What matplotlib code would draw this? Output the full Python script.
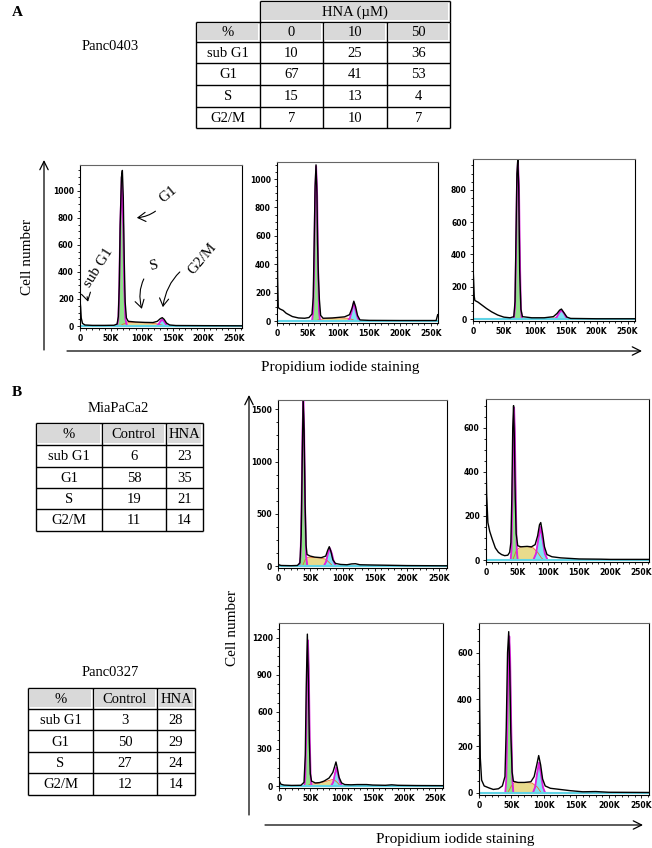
import matplotlib.pyplot as plt
from matplotlib.patches import Rectangle
from matplotlib.ticker import MultipleLocator, FixedLocator

W, H = 652, 848
plt.rcParams['font.family'] = ['Liberation Serif', 'DejaVu Serif']

# tables
a_doses = ['0', '10', '50']
phases = ['sub G1', 'G1', 'S', 'G2/M']
a_values = [[10, 25, 36], [67, 41, 53], [15, 13, 4], [7, 10, 7]]
b_groups = ['Control', 'HNA']
mia_values = [[6, 23], [58, 35], [19, 21], [11, 14]]
p327_values = [[3, 28], [50, 29], [27, 24], [12, 14]]

x_ticks = [0, 50, 100, 150, 200, 250]
x_tick_labels = ['0', '50K', '100K', '150K', '200K', '250K']

# histograms, x in K units: (x, count)
a1_cells = [(0, 190), (1, 140), (2, 60), (4, 20), (8, 8), (20, 5), (40, 5), (55, 6), (60, 15), (62, 70),
            (63.5, 300), (65, 750), (67, 1100), (68.5, 1150), (70, 950), (71.5, 500), (73, 180), (75, 60),
            (78, 35), (90, 30), (105, 27), (118, 26), (125, 35), (130, 55), (133, 62), (136, 50), (140, 22),
            (145, 8), (155, 4), (200, 3), (262, 2)]
a1_g1 = [(60, 0), (62, 50), (63.5, 280), (65, 720), (67.5, 1100), (70, 720), (71.5, 280), (73.5, 50), (76, 0)]
a1_s = [(64, 0), (70, 15), (78, 25), (95, 25), (115, 22), (125, 16), (132, 8), (138, 0)]
a1_g2 = [(123, 0), (126.5, 10), (130, 34), (133, 48), (136, 34), (139.5, 10), (143, 0)]

a2_cells = [(0, 0), (0.3, 650), (1, 300), (2, 95), (5, 85), (10, 75), (15, 55), (25, 32), (35, 22), (45, 20),
            (52, 25), (57, 50), (59, 170), (60.5, 550), (62, 950), (63.5, 1100), (65, 900), (66, 550),
            (67.5, 300), (69, 150), (71, 40), (75, 20), (90, 22), (110, 30), (118, 45), (122, 90),
            (125, 140), (128, 100), (131, 40), (135, 8), (150, 5), (200, 4), (259, 4), (261.5, 45)]
a2_g1 = [(57, 0), (59, 70), (60.5, 380), (62, 880), (63.7, 1090), (65.4, 880), (66.9, 380), (68.4, 70), (70, 0)]
a2_s = [(62, 0), (68, 10), (80, 18), (100, 22), (115, 20), (122, 12), (128, 0)]
a2_g2 = [(115, 0), (118.5, 20), (122, 72), (125, 130), (128, 72), (131.5, 20), (135, 0)]

a3_cells = [(0, 0), (0.3, 300), (1, 240), (2, 140), (3, 115), (8, 105), (15, 85), (22, 65), (30, 45), (40, 25),
            (50, 12), (60, 8), (66, 15), (68, 110), (69.5, 500), (71, 900), (72.5, 990), (74, 800),
            (75.5, 300), (77.5, 60), (80, 15), (95, 8), (115, 8), (130, 15), (136, 35), (140, 55), (143, 62),
            (147, 40), (152, 12), (158, 4), (200, 2), (262, 2)]
a3_g1 = [(66, 0), (68, 70), (69.5, 380), (71, 820), (72.7, 980), (74.4, 820), (75.9, 380), (77.4, 70), (79, 0)]
a3_s = [(70, 0), (80, 3), (100, 6), (120, 8), (135, 6), (145, 0)]
a3_g2 = [(132, 0), (135.5, 12), (139, 36), (143, 55), (147, 36), (150.5, 12), (154, 0)]

b1_cells = [(0, 20), (2, 10), (5, 5), (20, 3), (30, 5), (34, 30), (36, 300), (37.5, 1000), (39, 1600),
            (40.5, 1300), (42, 600), (43.5, 200), (45, 110), (50, 95), (57, 85), (67, 80), (74, 95), (77, 150),
            (79.5, 185), (82, 140), (85, 60), (89, 25), (97, 15), (107, 12), (114, 20), (120, 22), (127, 12),
            (142, 10), (162, 8), (200, 4), (262, 2)]
b1_g1 = [(33, 0), (35, 90), (36.5, 550), (38, 1300), (39.3, 1580), (40.6, 1300), (42.1, 550), (43.6, 90), (45.5, 0)]
b1_s = [(38, 0), (42, 60), (47, 85), (57, 80), (67, 75), (74, 65), (80, 30), (85, 0)]
b1_g2 = [(71, 0), (74.5, 40), (77.5, 120), (80.5, 170), (83.5, 120), (86.5, 40), (90, 0)]

b2_cells = [(0, 0), (0.3, 420), (1, 300), (3, 170), (6, 130), (10, 95), (15, 55), (20, 35), (25, 25), (30, 20),
            (35, 22), (38, 35), (40, 80), (41.5, 280), (43, 600), (44.3, 700), (45.6, 550), (47, 280),
            (48.5, 120), (51, 65), (56, 60), (66, 62), (73, 60), (79, 70), (83, 110), (86, 160), (88, 170),
            (91, 120), (94, 60), (98, 25), (106, 15), (120, 10), (150, 5), (185, 4), (200, 3), (262, 3)]
b2_g1 = [(39.5, 0), (41, 45), (42.5, 280), (44, 580), (45.2, 690), (46.4, 580), (47.9, 280), (49.4, 45), (51, 0)]
b2_s = [(43, 0), (49, 45), (56, 60), (66, 62), (76, 55), (83, 35), (89, 10), (93, 0)]
b2_g2 = [(76, 0), (80.5, 30), (84, 92), (87.5, 150), (91, 92), (94.5, 30), (99, 0)]

b3_cells = [(0, 40), (1, 35), (3, 15), (8, 8), (20, 5), (35, 6), (40, 30), (42, 250), (43.5, 800),
            (45.3, 1230), (47, 850), (48.5, 350), (50, 100), (52, 40), (58, 25), (65, 28), (72, 40), (80, 65),
            (86, 110), (89, 160), (91, 195), (93, 150), (96, 70), (100, 25), (105, 12), (115, 10), (125, 12),
            (140, 12), (150, 8), (170, 6), (180, 10), (190, 6), (220, 4), (262, 3)]
b3_g1 = [(40.5, 0), (42, 70), (43.5, 400), (45, 950), (46.3, 1180), (47.6, 950), (49.1, 400), (50.6, 70), (52, 0)]
b3_s = [(44, 0), (50, 15), (60, 20), (70, 30), (80, 45), (87, 55), (93, 30), (98, 0)]
b3_g2 = [(83, 0), (86.5, 30), (89.5, 100), (91.5, 150), (94, 100), (97.5, 30), (101, 0)]

b4_cells = [(0, 0), (0.3, 650), (1, 380), (2, 150), (4, 55), (8, 30), (15, 22), (22, 15), (30, 18), (36, 30),
            (40, 70), (42, 280), (44, 600), (45.8, 690), (47.5, 520), (49, 260), (51, 90), (53, 50), (60, 45),
            (70, 45), (80, 48), (85, 70), (89, 120), (92, 160), (95, 120), (98, 60), (102, 30), (110, 20),
            (125, 15), (140, 10), (160, 5), (180, 6), (200, 3), (262, 2)]
b4_g1 = [(40.5, 0), (42, 55), (43.8, 300), (45.4, 580), (46.7, 670), (48, 580), (49.6, 300), (51.4, 55), (53, 0)]
b4_s = [(44, 0), (50, 30), (55, 45), (70, 45), (82, 42), (90, 25), (96, 0)]
b4_g2 = [(83, 0), (86.5, 25), (89.5, 82), (92.5, 130), (95.5, 82), (98.5, 25), (102, 0)]

fig = plt.figure(figsize=(W / 100, H / 100), dpi=100)
bg = fig.add_axes([0, 0, 1, 1])
bg.set_xlim(0, W)
bg.set_ylim(H, 0)
bg.axis('off')


def rect(x0, y0, x1, y1):
    return [x0 / W, 1 - y1 / H, (x1 - x0) / W, (y1 - y0) / H]


def gray_cell(x0, y0, x1, y1):
    bg.add_patch(Rectangle((x0 + 2, y0 + 2), x1 - x0 - 4, y1 - y0 - 4, facecolor='#d9d9d9', edgecolor='none'))


def line(xs, ys, lw=1.0):
    bg.plot(xs, ys, color='black', lw=lw, solid_capstyle='butt')


def draw_table(xs, ys, header, values):
    for i, txt in enumerate(header):
        gray_cell(xs[i], ys[0], xs[i + 1], ys[1])
        bg.text((xs[i] + xs[i + 1]) / 2, (ys[0] + ys[1]) / 2 + 1, txt, ha='center', va='center', fontsize=10.5)
    for r, (lab, vals) in enumerate(zip(phases, values)):
        yc = (ys[r + 1] + ys[r + 2]) / 2 + 1
        for i, txt in enumerate([lab] + [str(v) for v in vals]):
            bg.text((xs[i] + xs[i + 1]) / 2, yc, txt, ha='center', va='center', fontsize=10.5)
    for x in xs:
        line([x, x], [ys[0], ys[-1]])
    for y in ys:
        line([xs[0], xs[-1]], [y, y])


def hist(pos, cells, g1, s, g2, ymax, ystep):
    ax = fig.add_axes(rect(*pos))
    for pts, fc, ec in ((s, '#e8db8c', '#e86a2a'), (g1, '#8fe38a', '#3a9e3a'), (g2, '#7fe3f2', '#2a9fd6')):
        xs, ys = zip(*pts)
        ax.fill_between(xs, ys, color=fc, lw=0)
        ax.plot(xs, ys, color=ec, lw=0.6)
    for pts in (g1, g2):
        xs, ys = zip(*pts)
        ax.plot(xs, ys, color='#e020e0', lw=1.3)
    ax.axhline(0, color='#5fd3e6', lw=1.5)
    xs, ys = zip(*cells)
    ax.plot(xs, ys, color='black', lw=1.0)
    ax.set_xlim(0, 262)
    ax.set_ylim(-ymax * 0.012, ymax)
    ax.xaxis.set_major_locator(FixedLocator(x_ticks))
    ax.set_xticklabels(x_tick_labels)
    ax.xaxis.set_minor_locator(MultipleLocator(10))
    ax.yaxis.set_major_locator(MultipleLocator(ystep))
    ax.yaxis.set_minor_locator(MultipleLocator(ystep / 4))
    ax.tick_params(which='both', direction='out', labelsize=5.5, pad=2, width=0.6)
    ax.tick_params(which='major', length=2.5)
    ax.tick_params(which='minor', length=1.5)
    for lab in ax.get_xticklabels() + ax.get_yticklabels():
        lab.set_family('DejaVu Sans')
        lab.set_fontweight('bold')
    for sp in ax.spines.values():
        sp.set_linewidth(0.8)
    ax.spines['top'].set_color('#666666')
    return ax


def arrow(p0, p1):
    bg.annotate('', xy=p1, xytext=p0,
                arrowprops=dict(arrowstyle='->,head_length=0.6,head_width=0.3', lw=0.9, color='black',
                                shrinkA=0, shrinkB=0))


# ---- panel A ----
bg.text(12, 12, 'A', fontsize=11, fontweight='bold', ha='left', va='center')
bg.text(110, 47, 'Panc0403', fontsize=10.5, ha='center', va='center')

xa = [196, 260, 323, 387, 450]
ya = [1, 22, 42, 63, 85, 107, 128]
gray_cell(xa[1], ya[0], xa[4], ya[1])
bg.text((xa[1] + xa[4]) / 2, (ya[0] + ya[1]) / 2 + 1, 'HNA (µM)', ha='center', va='center', fontsize=10.5)
line([xa[1], xa[1]], [ya[0], ya[1]])
line([xa[4], xa[4]], [ya[0], ya[1]])
line([xa[1], xa[4]], [ya[0], ya[0]])
draw_table(xa, ya[1:], ['%'] + a_doses, a_values)

ax1 = hist((80, 165, 242, 328), a1_cells, a1_g1, a1_s, a1_g2, 1190, 200)
hist((277, 162, 438, 323), a2_cells, a2_g1, a2_s, a2_g2, 1120, 200)
hist((473, 159, 635, 321), a3_cells, a3_g1, a3_s, a3_g2, 990, 200)

labels_a1 = [('G1', (142, 970), (92, 800), 40, -0.3),
             ('sub G1', (30, 430), (13, 180), 58, 0.3),
             ('S', (120, 450), (100, 127), 15, 0.3),
             ('G2/M', (198, 500), (134, 140), 50, 0.3)]
for txt, tp, tip, rot, rad in labels_a1:
    ax1.annotate(txt, xy=tip, xytext=tp, rotation=rot, ha='center', va='center', fontsize=11,
                 arrowprops=dict(arrowstyle='->,head_length=0.5,head_width=0.3', lw=0.8, color='black',
                                 connectionstyle='arc3,rad=%s' % rad, shrinkA=3, shrinkB=0))

arrow((44, 350), (44, 160))
arrow((67, 351), (642, 351))
bg.text(28, 257, 'Cell number', rotation=90, fontsize=11, ha='center', va='center')
bg.text(340, 368, 'Propidium iodide staining', fontsize=11, ha='center', va='center')

# ---- panel B ----
bg.text(12, 392, 'B', fontsize=11, fontweight='bold', ha='left', va='center')
bg.text(118, 409, 'MiaPaCa2', fontsize=10.5, ha='center', va='center')
draw_table([36, 102, 166, 203], [423, 445, 467, 488, 509, 531], ['%'] + b_groups, mia_values)
bg.text(110, 672, 'Panc0327', fontsize=10.5, ha='center', va='center')
draw_table([28, 93, 157, 195], [688, 709, 730, 752, 773, 795], ['%'] + b_groups, p327_values)

hist((278, 400, 447, 568), b1_cells, b1_g1, b1_s, b1_g2, 1590, 500)
hist((486, 399, 649, 562), b2_cells, b2_g1, b2_s, b2_g2, 730, 200)
hist((279, 623, 443, 788), b3_cells, b3_g1, b3_s, b3_g2, 1320, 300)
hist((479, 623, 649, 795), b4_cells, b4_g1, b4_s, b4_g2, 727, 200)

arrow((249, 815), (249, 395))
arrow((265, 825), (643, 825))
bg.text(233, 628, 'Cell number', rotation=90, fontsize=11, ha='center', va='center')
bg.text(455, 840, 'Propidium iodide staining', fontsize=11, ha='center', va='center')

fig.savefig('out.png', dpi=100)
